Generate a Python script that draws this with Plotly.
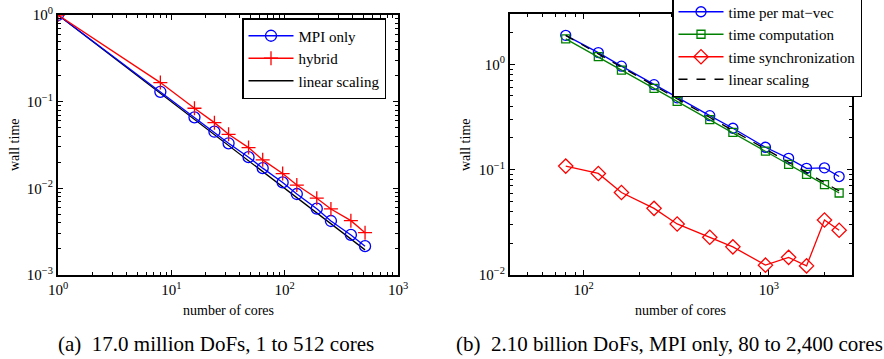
import plotly.graph_objects as go

# ---- data: panel (a) ----
cores_a = [1, 8, 16, 24, 32, 48, 64, 96, 128, 192, 256, 384, 512]
mpi_only = [1.0, 0.130, 0.066, 0.045, 0.0331, 0.0229, 0.0171, 0.0117, 0.0086, 0.00583, 0.0042, 0.0029, 0.00215]
hybrid = [1.0, 0.166, 0.084, 0.0573, 0.042, 0.0295, 0.0213, 0.0148, 0.0109, 0.0077, 0.00578, 0.00424, 0.00308]
lin_a_x = [1, 512]
lin_a_y = [1.0, 0.00195]

# ---- data: panel (b) ----
cores_b = [80, 120, 160, 240, 320, 480, 640, 960, 1280, 1600, 2000, 2400]
t_matvec = [1.88, 1.29, 0.96, 0.64, 0.48, 0.325, 0.247, 0.163, 0.128, 0.103, 0.104, 0.086]
t_comp = [1.74, 1.18, 0.88, 0.59, 0.444, 0.298, 0.226, 0.150, 0.112, 0.090, 0.072, 0.060]
t_sync = [0.108, 0.092, 0.0607, 0.0429, 0.0305, 0.0228, 0.0185, 0.0124, 0.0147, 0.0122, 0.0333, 0.0266]
lin_b_x = [80, 2400]
lin_b_y = [1.88, 0.0627]

# ---- tick labels ----
xa_vals = [1, 10, 100, 1000]
xa_text = ["10<sup>0</sup>", "10<sup>1</sup>", "10<sup>2</sup>", "10<sup>3</sup>"]
ya_vals = [0.001, 0.01, 0.1, 1]
ya_text = ["10<sup>−3</sup>", "10<sup>−2</sup>", "10<sup>−1</sup>", "10<sup>0</sup>"]
xb_vals = [100, 1000]
xb_text = ["10<sup>2</sup>", "10<sup>3</sup>"]
yb_vals = [0.01, 0.1, 1]
yb_text = ["10<sup>−2</sup>", "10<sup>−1</sup>", "10<sup>0</sup>"]

FONT = "Times New Roman, Liberation Serif, serif"
W, H = 884, 359
LW = 1.3

def px(x):
    return x / W

def py(y):
    return (H - y) / H

fig = go.Figure()

# panel (a)
fig.add_trace(go.Scatter(x=lin_a_x, y=lin_a_y, mode="lines", name="linear scaling",
                         line=dict(color="black", width=LW), xaxis="x", yaxis="y",
                         legend="legend", legendrank=3))
fig.add_trace(go.Scatter(x=cores_a, y=mpi_only, mode="lines+markers", name="MPI only",
                         line=dict(color="blue", width=LW),
                         marker=dict(symbol="circle-open", size=11, color="blue", line=dict(width=1.3)),
                         xaxis="x", yaxis="y", legend="legend", legendrank=1))
fig.add_trace(go.Scatter(x=cores_a, y=hybrid, mode="lines+markers", name="hybrid",
                         line=dict(color="red", width=LW),
                         marker=dict(symbol="cross-thin-open", size=10, color="red", line=dict(width=1.3, color="red")),
                         xaxis="x", yaxis="y", legend="legend", legendrank=2))

# panel (b)
fig.add_trace(go.Scatter(x=cores_b, y=t_matvec, mode="lines+markers", name="time per mat−vec",
                         line=dict(color="blue", width=LW),
                         marker=dict(symbol="circle-open", size=10, color="blue", line=dict(width=1.3)),
                         xaxis="x2", yaxis="y2", legend="legend2"))
fig.add_trace(go.Scatter(x=cores_b, y=t_comp, mode="lines+markers", name="time computation",
                         line=dict(color="#008000", width=LW),
                         marker=dict(symbol="square-open", size=8, color="#008000", line=dict(width=1.3)),
                         xaxis="x2", yaxis="y2", legend="legend2"))
fig.add_trace(go.Scatter(x=cores_b, y=t_sync, mode="lines+markers", name="time synchronization",
                         line=dict(color="red", width=LW),
                         marker=dict(symbol="diamond-open", size=11, color="red", line=dict(width=1.3)),
                         xaxis="x2", yaxis="y2", legend="legend2"))
fig.add_trace(go.Scatter(x=lin_b_x, y=lin_b_y, mode="lines", name="linear scaling",
                         line=dict(color="black", width=LW, dash="dash"),
                         xaxis="x2", yaxis="y2", legend="legend2"))

axis_common = dict(type="log", showline=True, linecolor="black", linewidth=2, mirror="allticks",
                   ticks="inside", ticklen=5, tickcolor="black", tickwidth=1, showgrid=False,
                   zeroline=False, tickmode="array", automargin=False,
                   tickfont=dict(family=FONT, size=15, color="black"),
                   minor=dict(ticks="inside", ticklen=3, tickcolor="black", tickwidth=1,
                              dtick="D1", showgrid=False))

legend_common = dict(xanchor="left", yanchor="top", bordercolor="black", borderwidth=1.5,
                     bgcolor="white", font=dict(family=FONT, size=15, color="black"),
                     tracegroupgap=0, itemwidth=45)

fig.update_layout(
    width=W, height=H, margin=dict(l=0, r=0, t=0, b=0, autoexpand=False),
    paper_bgcolor="white", plot_bgcolor="white",
    font=dict(family=FONT, color="black"),
    xaxis=dict(axis_common, domain=[px(58), px(398)], range=[0, 3], anchor="y",
               tickvals=xa_vals, ticktext=xa_text),
    yaxis=dict(axis_common, domain=[py(275), py(15)], range=[-3, 0], anchor="x",
               tickvals=ya_vals, ticktext=ya_text),
    xaxis2=dict(axis_common, domain=[px(510), px(851.5)], range=[1.602, 3.447], anchor="y2",
                tickvals=xb_vals, ticktext=xb_text),
    yaxis2=dict(axis_common, domain=[py(275), py(14)], range=[-2, 0.477], anchor="x2",
                tickvals=yb_vals, ticktext=yb_text),
    showlegend=True,
    legend=dict(legend_common, x=px(242), y=py(18)),
    legend2=dict(legend_common, x=px(672), y=py(-6)),
    annotations=[
        dict(text="number of cores", x=px(228), y=py(310), xref="paper", yref="paper",
             showarrow=False, font=dict(family=FONT, size=14), xanchor="center", yanchor="middle"),
        dict(text="number of cores", x=px(680), y=py(310), xref="paper", yref="paper",
             showarrow=False, font=dict(family=FONT, size=14), xanchor="center", yanchor="middle"),
        dict(text="wall time", x=px(14), y=py(145), xref="paper", yref="paper", textangle=-90,
             showarrow=False, font=dict(family=FONT, size=14), xanchor="center", yanchor="middle"),
        dict(text="wall time", x=px(465), y=py(145), xref="paper", yref="paper", textangle=-90,
             showarrow=False, font=dict(family=FONT, size=14), xanchor="center", yanchor="middle"),
        dict(text="(a)  17.0 million DoFs, 1 to 512 cores", x=px(216), y=py(344), xref="paper", yref="paper",
             showarrow=False, font=dict(family=FONT, size=21), xanchor="center", yanchor="middle"),
        dict(text="(b)  2.10 billion DoFs, MPI only, 80 to 2,400 cores", x=px(669), y=py(344), xref="paper", yref="paper",
             showarrow=False, font=dict(family=FONT, size=21), xanchor="center", yanchor="middle"),
    ],
)

fig.write_html("out.html")
